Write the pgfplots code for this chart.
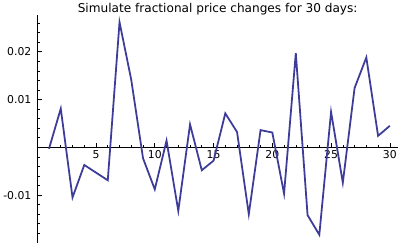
\documentclass[border=0pt]{standalone}
\usepackage{fontspec}
\setmainfont{DejaVu Sans}
\usepackage{pgfplots}
\pgfplotsset{compat=1.18}
\definecolor{mmaline}{RGB}{61,61,153}
\begin{document}
\begin{tikzpicture}
\begin{axis}[
  scale only axis,
  width=365bp, height=231bp,
  axis lines=middle,
  axis line style={-, black, line width=0.7pt},
  xmin=0, xmax=30.7,
  ymin=-0.0200, ymax=0.0278,
  xtick={5,10,...,30},
  minor xtick={1,2,3,4,6,7,8,9,11,12,13,14,16,17,18,19,21,22,23,24,26,27,28,29},
  ytick={-0.01,0.01,0.02},
  minor ytick={-0.018,-0.016,-0.014,-0.012,-0.008,-0.006,-0.004,-0.002,0.002,0.004,0.006,0.008,0.012,0.014,0.016,0.018,0.022,0.024,0.026},
  tick align=inside,
  major tick length=4.5bp,
  minor tick length=2.5bp,
  tick style={black, line width=0.6pt},
  yticklabel style={/pgf/number format/fixed, /pgf/number format/precision=2, font=\fontsize{11}{12}\selectfont, xshift=-2.5bp},
  xticklabel style={font=\fontsize{11}{12}\selectfont},
  /pgf/number format/assume math mode=true,
  scaled y ticks=false,
  title={Simulate fractional price changes for 30 days:},
  title style={font=\fontsize{12.3}{13}\selectfont, at={(0.5,1)}, anchor=south, yshift=-10bp},
  clip=false,
]
\addplot[mmaline, line width=1.8bp, line join=miter] coordinates {
(1,-0.0003) (2,0.0081) (3,-0.0105) (4,-0.0037) (5,-0.0053) (6,-0.0069)
(7,0.0262) (8,0.0141) (9,-0.0023) (10,-0.0088) (11,0.0014) (12,-0.0133)
(13,0.0048) (14,-0.0048) (15,-0.0028) (16,0.0071) (17,0.0032) (18,-0.0140)
(19,0.0036) (20,0.0031) (21,-0.0097) (22,0.0197) (23,-0.0142) (24,-0.0183)
(25,0.0074) (26,-0.0074) (27,0.0124) (28,0.0188) (29,0.0024) (30,0.0045)
};
\end{axis}
\end{tikzpicture}
\end{document}
